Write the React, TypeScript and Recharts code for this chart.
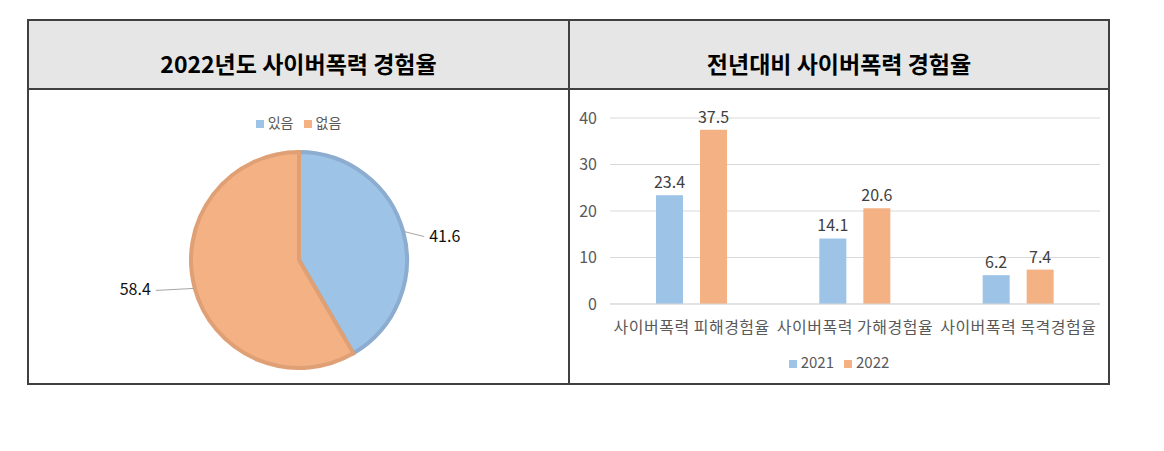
import React from 'react';
import { PieChart, Pie, Cell, BarChart, Bar, XAxis, YAxis, CartesianGrid, Legend, LabelList } from 'recharts';

// 2022년도 사이버폭력 경험율 (pie)
const pieNames = ['있음', '없음'];
const pieValues = [41.6, 58.4];

// 전년대비 사이버폭력 경험율 (bars)
const categories = ['사이버폭력 피해경험율', '사이버폭력 가해경험율', '사이버폭력 목격경험율'];
const values2021 = [23.4, 14.1, 6.2];
const values2022 = [37.5, 20.6, 7.4];
const yTicks = [0, 10, 20, 30, 40];

const BLUE = '#9dc3e6';
const ORANGE = '#f4b183';
const pieFills = [BLUE, ORANGE];
const pieStrokes = ['#8cacd0', '#dfa075'];

const FONT = '"Noto Sans CJK KR", "Noto Sans", sans-serif';
const RADIAN = Math.PI / 180;

const pieData = pieNames.map((name, i) => ({ name, value: pieValues[i] }));
const barData = categories.map((name, i) => ({ name, y2021: values2021[i], y2022: values2022[i] }));

// leader line + value, Excel style
const renderPieLabel = (props: any) => {
    const { cx, cy, midAngle, outerRadius, value } = props;
    const cos = Math.cos(-midAngle * RADIAN);
    const sin = Math.sin(-midAngle * RADIAN);
    const sx = cx + (outerRadius + 1) * cos;
    const sy = cy + (outerRadius + 1) * sin;
    const right = cos >= 0;
    const ex = sx + (right ? 20 : -38);
    const ey = sy + (right ? 5 : 2);
    return (
        <g>
            <polyline points={`${sx},${sy} ${ex},${ey}`} stroke="#a6a6a6" strokeWidth={1} fill="none" />
            <text
                x={ex + (right ? 5 : -5)}
                y={ey - 2}
                textAnchor={right ? 'start' : 'end'}
                dominantBaseline="central"
                fontSize={16}
                fill="#111"
                fontFamily={FONT}
            >
                {value}
            </text>
        </g>
    );
};

const legendText = (value: string) => <span style={{ color: '#595959', fontSize: 14 }}>{value}</span>;
const keepOrder = () => 0;

export default function App() {
    const line = '#404040';
    const titleStyle: React.CSSProperties = {
        position: 'absolute', top: 21, height: 67, display: 'flex', alignItems: 'center', justifyContent: 'center',
        paddingTop: 16, boxSizing: 'border-box', fontSize: 23, fontWeight: 700, color: '#000',
    };
    return (
        <div style={{ position: 'absolute', left: 0, top: 0, width: 1164, height: 451, background: '#fff', fontFamily: FONT }}>
            {/* header row */}
            <div style={{ position: 'absolute', left: 29, top: 21, width: 1079, height: 67, background: '#e6e6e6' }} />
            <div style={{ ...titleStyle, left: 29, width: 539 }}>2022년도 사이버폭력 경험율</div>
            <div style={{ ...titleStyle, left: 570, width: 538 }}>전년대비 사이버폭력 경험율</div>
            {/* table lines */}
            <div style={{ position: 'absolute', left: 27, top: 19, width: 1083, height: 366, border: `2px solid ${line}`, boxSizing: 'border-box' }} />
            <div style={{ position: 'absolute', left: 27, top: 88, width: 1083, height: 2, background: line }} />
            <div style={{ position: 'absolute', left: 568, top: 19, width: 2, height: 366, background: line }} />

            {/* pie */}
            <div style={{ position: 'absolute', left: 29, top: 90, width: 539, height: 293 }}>
                <PieChart width={539} height={293}>
                    <Legend
                        verticalAlign="middle"
                        align="center"
                        iconType="square"
                        iconSize={8}
                        itemSorter={keepOrder}
                        formatter={legendText}
                        wrapperStyle={{ top: 19, left: 5, width: 539, fontFamily: FONT }}
                    />
                    <Pie
                        data={pieData}
                        dataKey="value"
                        nameKey="name"
                        cx={265}
                        cy={165}
                        outerRadius={108}
                        startAngle={90}
                        endAngle={-270}
                        label={renderPieLabel}
                        labelLine={false}
                        isAnimationActive={false}
                    >
                        {pieData.map((d, i) => (
                            <Cell key={`p-${i}`} fill={pieFills[i]} stroke={pieStrokes[i]} strokeWidth={4} />
                        ))}
                    </Pie>
                </PieChart>
            </div>

            {/* bars */}
            <div style={{ position: 'absolute', left: 570, top: 90, width: 538, height: 293 }}>
                <BarChart width={538} height={293} data={barData} margin={{ top: 28, right: 8, left: 0, bottom: 0 }} barSize={27} barGap={17}>
                    <CartesianGrid vertical={false} stroke="#d9d9d9" />
                    <XAxis
                        dataKey="name"
                        height={79}
                        interval={0}
                        tickLine={false}
                        axisLine={{ stroke: '#d9d9d9' }}
                        tickMargin={12}
                        tick={{ fontSize: 16, fill: '#595959', fontFamily: FONT, letterSpacing: 0.5 }}
                    />
                    <YAxis
                        width={40}
                        domain={[0, 40]}
                        ticks={yTicks}
                        axisLine={false}
                        tickLine={false}
                        tickMargin={7}
                        tick={{ fontSize: 16, fill: '#595959', fontFamily: FONT }}
                    />
                    <Legend
                        verticalAlign="middle"
                        align="center"
                        iconType="square"
                        iconSize={8}
                        itemSorter={keepOrder}
                        formatter={(v: string) => <span style={{ color: '#595959', fontSize: 15 }}>{v}</span>}
                        wrapperStyle={{ top: 259, left: 5, width: 538, fontFamily: FONT }}
                    />
                    <Bar dataKey="y2021" name="2021" fill={BLUE} isAnimationActive={false}>
                        <LabelList dataKey="y2021" position="top" offset={7} style={{ fontSize: 16, fill: '#404040', fontFamily: FONT }} />
                    </Bar>
                    <Bar dataKey="y2022" name="2022" fill={ORANGE} isAnimationActive={false}>
                        <LabelList dataKey="y2022" position="top" offset={7} style={{ fontSize: 16, fill: '#404040', fontFamily: FONT }} />
                    </Bar>
                </BarChart>
            </div>
        </div>
    );
}
